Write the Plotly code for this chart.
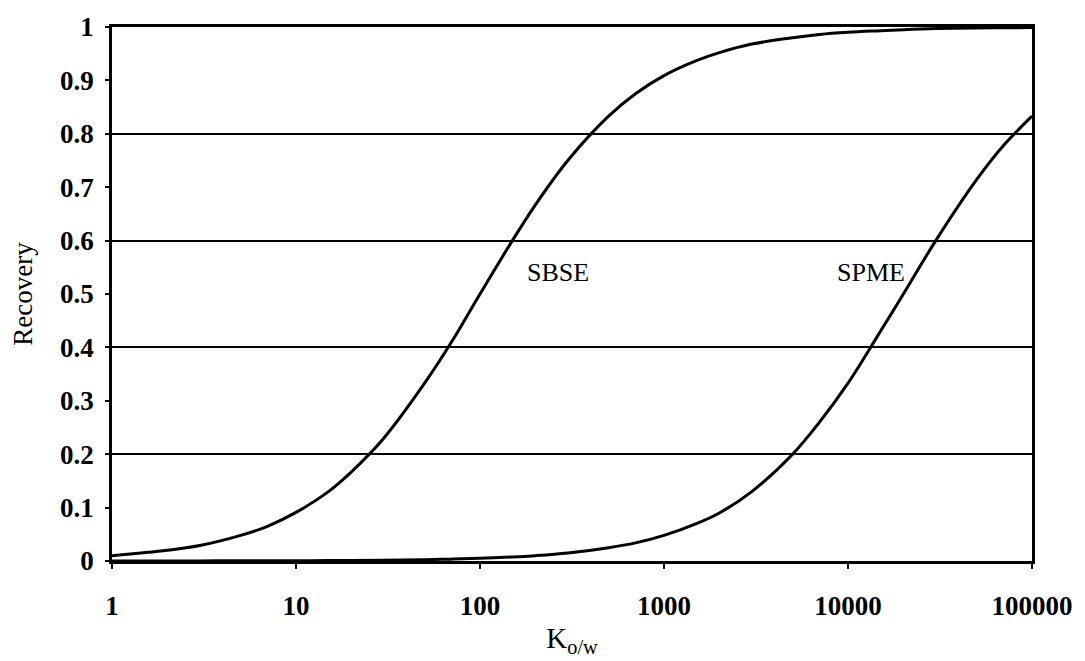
import math
import plotly.graph_objects as go

# K o/w values (x) and recoveries
k_ow = [1, 2, 3, 5, 7, 10, 15, 20, 30, 50, 70, 100, 150, 200, 300, 500, 700,
        1000, 1500, 2000, 3000, 5000, 7000, 10000, 15000, 20000, 30000, 50000,
        70000, 100000]
sbse = [0.010, 0.020, 0.029, 0.048, 0.065, 0.091, 0.130, 0.167, 0.230, 0.333,
        0.410, 0.500, 0.600, 0.667, 0.750, 0.833, 0.875, 0.909, 0.937, 0.952,
        0.968, 0.980, 0.986, 0.990, 0.993, 0.995, 0.997, 0.998, 0.9986, 0.999]
spme = [0.0001, 0.0001, 0.0002, 0.0003, 0.0004, 0.0005, 0.0008, 0.0010, 0.0015,
        0.0025, 0.0035, 0.005, 0.0075, 0.010, 0.015, 0.025, 0.034, 0.048, 0.070,
        0.090, 0.130, 0.200, 0.260, 0.333, 0.430, 0.500, 0.600, 0.714, 0.778,
        0.833]

x_ticks = [1, 10, 100, 1000, 10000, 100000]
x_ticklabels = ["1", "10", "100", "1000", "10000", "100000"]
y_ticks = [0, 0.1, 0.2, 0.3, 0.4, 0.5, 0.6, 0.7, 0.8, 0.9, 1]
y_ticklabels = ["0", "0.1", "0.2", "0.3", "0.4", "0.5", "0.6", "0.7", "0.8", "0.9", "1"]
grid_vals = [0.2, 0.4, 0.6, 0.8]

labels = [("SBSE", 265, 0.54), ("SPME", 13300, 0.54)]

serif = "Liberation Serif, Times New Roman, serif"

fig = go.Figure()
# helper trace to draw the gridline axis
fig.add_trace(go.Scatter(x=k_ow, y=sbse, yaxis="y2", mode="lines",
                         line=dict(width=0, color="rgba(0,0,0,0)"),
                         hoverinfo="skip", showlegend=False))
fig.add_trace(go.Scatter(x=k_ow, y=sbse, mode="lines", name="SBSE",
                         line=dict(color="black", width=3, shape="spline"),
                         showlegend=False))
fig.add_trace(go.Scatter(x=k_ow, y=spme, mode="lines", name="SPME",
                         line=dict(color="black", width=3, shape="spline"),
                         showlegend=False))

for txt, lx, ly in labels:
    # annotations on a log axis take log10 coordinates
    fig.add_annotation(x=math.log10(lx), y=ly, xref="x", yref="y", text=txt,
                       showarrow=False,
                       font=dict(family=serif, size=26, color="black"))

fig.update_layout(
    width=1085, height=661,
    margin=dict(l=112, r=50, t=24, b=99),
    paper_bgcolor="white", plot_bgcolor="white",
    xaxis=dict(type="log", range=[0, 5], tickvals=x_ticks, ticktext=x_ticklabels,
               showgrid=False, zeroline=False, showline=True, linecolor="black",
               linewidth=2.5, mirror=True, ticks="outside", ticklen=5, tickwidth=2,
               tickcolor="black", ticklabelstandoff=14,
               tickfont=dict(family=serif, size=27, color="black", weight="bold"),
               title=dict(text="K<sub>o/w</sub>", standoff=8,
                          font=dict(family=serif, size=29, color="black"))),
    yaxis=dict(range=[0, 1], tickvals=y_ticks, ticktext=y_ticklabels,
               showgrid=False, zeroline=False, showline=True, linecolor="black",
               linewidth=2.5, mirror=True, ticks="outside", ticklen=4, tickwidth=2,
               tickcolor="black", ticklabelstandoff=6,
               tickfont=dict(family=serif, size=27, color="black", weight="bold"),
               title=dict(text="Recovery", standoff=20,
                          font=dict(family=serif, size=27, color="black"))),
    yaxis2=dict(range=[0, 1], overlaying="y", side="left", tickvals=grid_vals,
                showticklabels=False, ticks="", showgrid=True, gridcolor="black",
                gridwidth=2, zeroline=False, showline=False),
)

fig.write_html("out.html")
